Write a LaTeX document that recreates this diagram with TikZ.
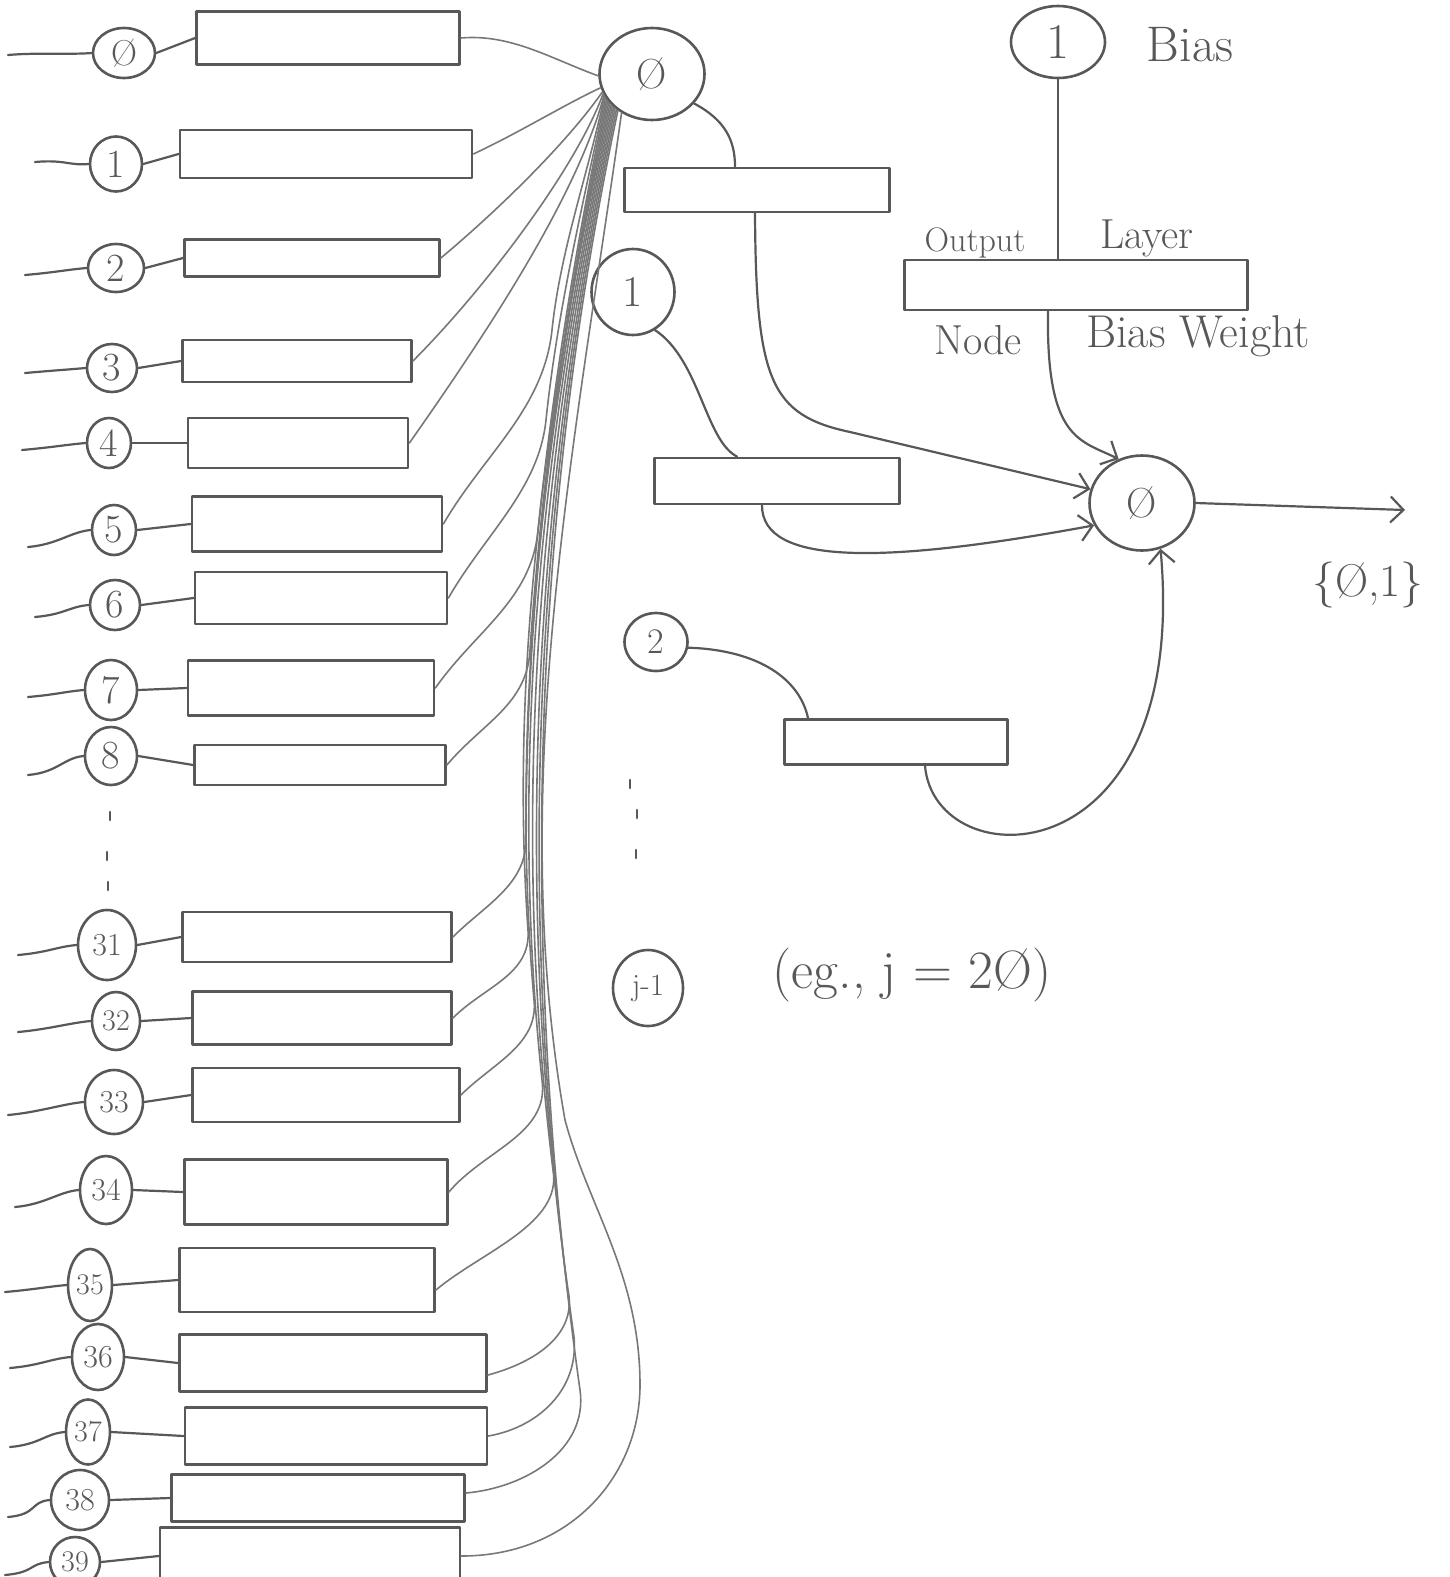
\documentclass[tikz,border=0pt]{standalone}
\usepackage{fontspec}
\usetikzlibrary{shapes.geometric,arrows.meta,calc}
\definecolor{ink}{RGB}{88,88,88}
\definecolor{inklight}{RGB}{120,120,120}
\begin{document}
\begin{tikzpicture}[x=1pt,y=-1pt,line cap=round,line join=round,
  neuron/.style={ellipse,draw=ink,line width=2.6pt,inner sep=0pt,text=ink},
  wbox/.style={rectangle,draw=ink,line width=2.8pt,inner sep=0pt},
  link/.style={draw=ink,line width=2.2pt},
  feed/.style={draw=inklight,line width=1.6pt},
  hand/.style={text=ink,inner sep=0pt},
  arr/.style={-{Straight Barb[length=13pt,width=26pt,line width=2.2pt]}}]
\useasboundingbox (0,0) rectangle (1450,1577);
\fill[white] (0,0) rectangle (1450,1577);
\clip (0,0) rectangle (1450,1577);

% input layer
\foreach \n/\t/\cx/\cy/\w/\h/\fs/\lx/\ly/\rx/\ry/\rw/\rh in {
 0/Ø/124/53/62/50/36/8/55/328/38/263/53,
 1/1/116/164/52/55/40/35/162/326/154/292/48,
 2/2/116/268/56/48/40/25/275/312/258/255/37,
 3/3/112/368/50/48/40/25/373/297/361/229/42,
 4/4/109/443/44/50/40/22/450/298/443/220/50,
 5/5/114/530/44/50/40/28/547/317/524/250/55,
 6/6/115/605/50/50/40/35/617/321/598/252/52,
 7/7/111/690/52/60/40/28/697/311/688/246/55,
 8/8/111/756/52/58/40/28/775/320/765/251/40,
 31/31/107/945/58/70/32/18/955/317/937/269/50,
 32/32/116/1021/48/58/30/18/1032/322/1018/259/53,
 33/33/114/1102/58/64/32/8/1115/326/1095/267/54,
 34/34/106/1190/52/68/32/15/1207/316/1192/263/65,
 35/35/90/1285/44/72/30/5/1292/307/1280/255/64,
 36/36/98/1357/52/66/32/10/1368/333/1363/307/57,
 37/37/88/1432/44/65/30/10/1447/336/1436/302/57,
 38/38/80/1500/58/60/32/8/1517/318/1498/293/47,
 39/39/75/1562/50/50/30/5/1575/310/1556/300/57}{
  \node[neuron,minimum width=\w pt,minimum height=\h pt,font=\fontsize{\fs}{\fs}\selectfont] (i\n) at (\cx,\cy) {\t};
  \node[wbox,minimum width=\rw pt,minimum height=\rh pt] (r\n) at (\rx,\ry) {};
  \coordinate (l\n) at (\lx,\ly);
  \draw[link] (l\n) .. controls +(5:30pt) and +(185:20pt) .. (i\n.west);
  \draw[link] (i\n.east) -- (r\n.west);
}

% hidden layer
\node[neuron,minimum width=105pt,minimum height=92pt,font=\fontsize{42}{42}\selectfont] (h0) at (652,74) {Ø};
\node[neuron,minimum width=83pt,minimum height=86pt,font=\fontsize{44}{44}\selectfont] (h1) at (633,292) {1};
\node[neuron,minimum width=63pt,minimum height=58pt,font=\fontsize{36}{36}\selectfont] (h2) at (656,642) {2};
\node[neuron,minimum width=70pt,minimum height=76pt,font=\fontsize{31}{31}\selectfont] (hj) at (648,988) {j-1};

% input -> hidden connections (upper, direct)
\draw[feed] (r0.east) .. controls +(5:50pt) and +(160:50pt) .. (h0.182);
\draw[feed] (r1.east) .. controls +(25:50pt) and +(205:40pt) .. (h0.195);
\draw[feed] (r2.east) .. controls +(40:80pt) and +(235:60pt) .. (h0.200);
\draw[feed] (r3.east) .. controls +(45:100pt) and +(250:80pt) .. (h0.202);
\draw[feed] (r4.east) .. controls +(55:120pt) and +(255:110pt) .. (h0.204);
% input -> hidden connections (through the bundle)
\foreach \n/\sh/\o/\da/\jx/\jy/\ia/\db/\u/\dc/\a in {
  5/0/60/80/552/330/-96/80/84/80/205,
  6/0/60/75/546/420/-96/70/84/110/207,
  7/0/55/70/538/530/-95/70/84/145/209,
  8/0/50/55/530/650/-93/55/86/185/211,
  31/0/45/45/526/840/-90/45/90/250/213,
  32/0/45/45/528/930/-86/45/94/280/215,
  33/0/45/45/534/1000/-84/45/95/300/217,
  34/0/50/55/542/1080/-82/55/96/330/219,
  35/-10/40/60/553/1170/-80/55/97/360/221,
  36/-12/15/50/568/1290/-78/45/98/400/223,
  37/0/10/55/573/1330/-80/55/98/410/225,
  38/5/5/60/580/1390/-82/60/98/430/227}{
  \draw[feed] ([yshift=\sh pt]r\n.east) .. controls +(\o:\da pt) and +(\ia:\db pt) .. (\jx,\jy)
     .. controls +(\u:\dc pt) and +(258:\dc pt) .. (h0.\a);
}
\draw[feed] (r39.east) .. controls +(0:110pt) and +(-90:90pt) .. (640,1385)
   .. controls +(90:110pt) and +(-75:90pt) .. (565,1120)
   .. controls +(100:340pt) and +(262:340pt) .. (h0.232);

% hidden weight boxes
\node[wbox,minimum width=265pt,minimum height=44pt] (hr0) at (757,190) {};
\node[wbox,minimum width=245pt,minimum height=46pt] (hr1) at (777,481) {};
\node[wbox,minimum width=223pt,minimum height=45pt] (hr2) at (896,742) {};

% output layer
\node[neuron,minimum width=105pt,minimum height=95pt,font=\fontsize{42}{42}\selectfont] (out) at (1142,503) {Ø};
\node[neuron,minimum width=94pt,minimum height=72pt,font=\fontsize{50}{50}\selectfont] (b) at (1058,42) {1};
\node[wbox,minimum width=343pt,minimum height=50pt] (orect) at (1076,285) {};

\draw[link] (h0.-35) .. controls (725,120) and (735,140) .. ([xshift=-22pt]hr0.north);
\draw[link] (h1.-60) .. controls (700,360) and (705,440) .. ([xshift=-40pt]hr1.north);
\draw[link] (h2.-10) .. controls (760,650) and (800,680) .. ([xshift=-88pt]hr2.north);

\draw[link,arr] ([xshift=-2pt]hr0.south) .. controls (756,380) and (770,415) .. (850,432) -- (out.165);
\draw[link,arr] ([xshift=-15pt]hr1.south) .. controls (762,565) and (880,565) .. (out.205);
\draw[link,arr] ([xshift=29pt]hr2.south) .. controls (935,880) and (1190,880) .. (out.-68);

\draw[link] (b.south) -- (b.south |- orect.north);
\draw[link,arr] ([xshift=-28pt]orect.south) .. controls (1046,440) and (1080,440) .. (out.118);

\coordinate (y) at (1405,510);
\draw[link,arr] (out.east) -- (y);

% texts
\node[hand,font=\fontsize{50}{50}\selectfont] (tbias) at (1190,45) {Bias};
\node[hand,font=\fontsize{34}{34}\selectfont] (tout) at (975,243) {Output};
\node[hand,font=\fontsize{42}{42}\selectfont] (tlayer) at (1147,238) {Layer};
\node[hand,font=\fontsize{42}{42}\selectfont] (tnode) at (978,340) {Node};
\node[hand,font=\fontsize{46}{46}\selectfont] (tbw) at (1198,336) {Bias Weight};
\node[hand,font=\fontsize{46}{46}\selectfont] (tset) at (1368,585) {\{Ø,1\}};
\node[hand,font=\fontsize{54}{54}\selectfont] (teg) at (912,975) {(eg., j = 2Ø)};

% ellipsis dots
\foreach \x/\y in {110/812, 107/852, 108/882, 630/780, 637/810, 636/850}{
  \draw[ink,line width=2.6pt] (\x,\y) -- ++(0,8);
}
\end{tikzpicture}
\end{document}
